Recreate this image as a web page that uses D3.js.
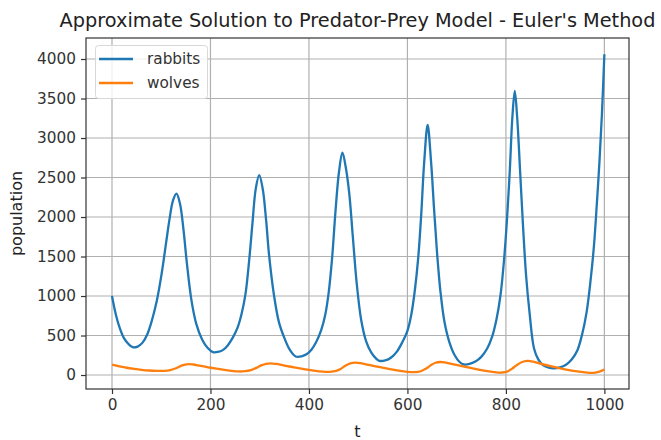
<!DOCTYPE html>
<html><head><meta charset="utf-8">
<script src="https://cdn.jsdelivr.net/npm/d3@7"></script>
<style>
html,body{margin:0;padding:0;background:#fff;}
svg{display:block;font-family:"DejaVu Sans",sans-serif;}
</style></head>
<body>
<svg id="chart" width="661" height="440"></svg>
<script>
// ---- data ----
const rabbitT = [0,8,16,24,33,42,52,62,72,81,91,101,110,117,124,131,138,145,152,161,171,183,194,205,
  215,225,235,245,255,263,271,279,285,292,299,306,313,319,329,339,350,361,373,
  385,395,405,415,425,433,440,447,454,461,468,475,482,489,497,506,516,527,537,543,
  555,567,579,590,600,608,615,622,628,634,641,648,654,660,667,675,685,696,706,714,
  726,738,750,762,772,781,789,796,802,808,813,818,823,829,835,841,848,857,866,876,887,897,
  910,922,934,945,955,964,972,979,985,990,995,1000];
const rabbitV = [1000,760,590,470,395,352,360,410,520,690,940,1290,1680,1980,2210,2295,2170,1850,1420,960,650,450,345,290,
  292,315,375,470,600,770,1020,1480,1900,2360,2530,2360,1960,1520,1010,670,470,320,235,
  237,262,320,420,570,760,1040,1480,2080,2570,2815,2620,2290,1760,1160,700,430,280,205,180,
  185,222,300,420,560,770,1070,1490,2030,2690,3165,2700,2110,1560,1060,680,420,250,165,135,
  140,170,230,335,485,710,1010,1440,1950,2600,3250,3595,3250,2560,1860,1260,790,340,195,122,93,85,
  96,130,200,310,520,800,1200,1650,2200,2700,3300,4060];
const wolfT = [0,15,30,45,60,75,90,105,118,130,140,148,156,165,178,195,212,228,243,257,270,282,293,303,313,322,333,350,370,390,410,428,443,455,465,474,484,494,505,522,542,562,582,600,615,627,637,647,657,667,678,697,720,742,762,780,793,803,812,822,832,843,855,872,895,920,945,965,978,990,1000];
const wolfV = [130,110,92,78,66,57,52,53,62,85,115,132,139,133,118,98,80,65,52,45,48,62,90,122,142,148,140,120,97,75,55,42,40,52,80,118,148,157,150,128,102,78,55,40,36,48,78,122,155,165,156,130,100,72,48,33,32,45,78,125,162,178,170,140,105,72,45,30,28,42,70];
const xTicks = [0,200,400,600,800,1000];
const yTicks = [0,500,1000,1500,2000,2500,3000,3500,4000];
const seriesNames = ["rabbits","wolves"];
const seriesColors = ["#1f77b4","#ff7f0e"];
const titleText = "Approximate Solution to Predator-Prey Model - Euler's Method";

// ---- layout ----
const svg = d3.select("#chart");
const L = 86, R = 629, T = 38, B = 389;
const x = d3.scaleLinear().domain([-52.8, 1050]).range([L, R]);
const y = d3.scaleLinear().domain([-177, 4266]).range([B, T]);

// grid
const g = svg.append("g");
g.selectAll(".vg").data(xTicks).enter().append("line")
  .attr("x1", d => x(d)).attr("x2", d => x(d)).attr("y1", T).attr("y2", B)
  .attr("stroke", "#b0b0b0").attr("stroke-width", 1.2);
g.selectAll(".hg").data(yTicks).enter().append("line")
  .attr("y1", d => y(d)).attr("y2", d => y(d)).attr("x1", L).attr("x2", R)
  .attr("stroke", "#b0b0b0").attr("stroke-width", 1.2);

// lines
const mk = (ts, vs) => ts.map((t, i) => [t, vs[i]]);
const line = d3.line().x(d => x(d[0])).y(d => y(d[1])).curve(d3.curveCatmullRom.alpha(0.5));
svg.append("path").attr("d", line(mk(rabbitT, rabbitV))).attr("fill", "none")
  .attr("stroke", seriesColors[0]).attr("stroke-width", 2.3).attr("stroke-linejoin","round");
svg.append("path").attr("d", line(mk(wolfT, wolfV))).attr("fill", "none")
  .attr("stroke", seriesColors[1]).attr("stroke-width", 2.3).attr("stroke-linejoin","round");

// axes
const xa = svg.append("g").attr("transform", `translate(0,${B})`)
  .call(d3.axisBottom(x).tickValues(xTicks).tickFormat(d3.format("d")).tickSize(5).tickPadding(5));
const ya = svg.append("g").attr("transform", `translate(${L},0)`)
  .call(d3.axisLeft(y).tickValues(yTicks).tickFormat(d3.format("d")).tickSize(5).tickPadding(5));
[xa, ya].forEach(a => {
  a.select(".domain").remove();
  a.selectAll("line").attr("stroke", "#333").attr("stroke-width", 1.2);
  a.selectAll("text").attr("font-size", 15.3).attr("fill", "#333").attr("font-family", "DejaVu Sans");
});

// frame
svg.append("rect").attr("x", L).attr("y", T).attr("width", R - L).attr("height", B - T)
  .attr("fill", "none").attr("stroke", "#333").attr("stroke-width", 1.2);

// title and labels
svg.append("text").attr("x", (L + R) / 2).attr("y", 27).attr("text-anchor", "middle")
  .attr("font-size", 19.3).attr("fill", "#222").text(titleText);
svg.append("text").attr("x", (L + R) / 2).attr("y", 437).attr("text-anchor", "middle")
  .attr("font-size", 16).attr("fill", "#222").text("t");
svg.append("text").attr("transform", `translate(22,${(T + B) / 2}) rotate(-90)`)
  .attr("text-anchor", "middle").attr("font-size", 16).attr("fill", "#222").text("population");

// legend
const lg = svg.append("g");
lg.append("rect").attr("x", 95.5).attr("y", 45.5).attr("width", 112).attr("height", 53)
  .attr("rx", 3).attr("fill", "#fff").attr("fill-opacity", 0.8).attr("stroke", "#d8d8d8");
seriesNames.forEach((n, i) => {
  const yy = 59 + i * 24;
  lg.append("line").attr("x1", 99).attr("x2", 133).attr("y1", yy).attr("y2", yy)
    .attr("stroke", seriesColors[i]).attr("stroke-width", 2.3);
  lg.append("text").attr("x", 147).attr("y", yy + 5).attr("font-size", 15.3).attr("fill", "#333").text(n);
});
</script>
</body></html>
